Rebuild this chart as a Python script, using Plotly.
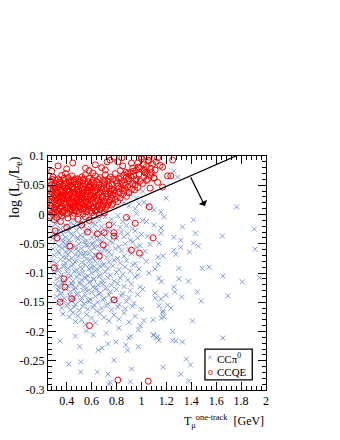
import plotly.graph_objects as go

# CCQE events (muon kinetic energy [GeV], log likelihood ratio)
ccqe = [
    (0.29, 0.064), (0.33, 0.061), (0.36, 0.067), (0.41, 0.063), (0.44, 0.066), (0.47, 0.061), (0.52, 0.064),
    (0.55, 0.068), (0.58, 0.062), (0.63, 0.066), (0.67, 0.063), (0.71, 0.068), (0.75, 0.064), (0.79, 0.070),
    (0.86, 0.067), (0.91, 0.072), (0.39, 0.070), (0.61, 0.071), (0.83, 0.075), (0.96, 0.076),
    (0.27, 0.057), (0.31, 0.059), (0.35, 0.055), (0.38, 0.058), (0.42, 0.056), (0.46, 0.059), (0.50, 0.055),
    (0.53, 0.058), (0.57, 0.056), (0.61, 0.059), (0.64, 0.055), (0.69, 0.058), (0.73, 0.057), (0.77, 0.060),
    (0.82, 0.061), (0.88, 0.063), (0.94, 0.066), (0.98, 0.069), (1.03, 0.071), (0.49, 0.061),
    (0.28, 0.051), (0.30, 0.048), (0.34, 0.052), (0.37, 0.049), (0.40, 0.053), (0.43, 0.050), (0.45, 0.047),
    (0.49, 0.052), (0.51, 0.049), (0.56, 0.051), (0.59, 0.048), (0.62, 0.053), (0.66, 0.050), (0.70, 0.052),
    (0.74, 0.049), (0.80, 0.054), (0.84, 0.056), (0.90, 0.058), (0.96, 0.061), (1.02, 0.064), (1.07, 0.067),
    (0.27, 0.044), (0.32, 0.046), (0.35, 0.042), (0.39, 0.045), (0.41, 0.043), (0.44, 0.046), (0.48, 0.042),
    (0.52, 0.045), (0.54, 0.043), (0.58, 0.046), (0.60, 0.042), (0.65, 0.045), (0.68, 0.043), (0.72, 0.046),
    (0.76, 0.044), (0.81, 0.048), (0.87, 0.050), (0.93, 0.053), (0.99, 0.057), (1.05, 0.060), (1.10, 0.063),
    (0.28, 0.038), (0.31, 0.040), (0.33, 0.036), (0.36, 0.039), (0.38, 0.037), (0.42, 0.041), (0.45, 0.038),
    (0.47, 0.036), (0.50, 0.040), (0.53, 0.037), (0.57, 0.039), (0.61, 0.036), (0.63, 0.040), (0.67, 0.038),
    (0.71, 0.041), (0.75, 0.037), (0.78, 0.042), (0.84, 0.044), (0.89, 0.047), (0.95, 0.050), (1.01, 0.053),
    (0.27, 0.032), (0.30, 0.034), (0.34, 0.030), (0.37, 0.033), (0.40, 0.031), (0.43, 0.035), (0.46, 0.032),
    (0.49, 0.030), (0.52, 0.034), (0.55, 0.031), (0.59, 0.033), (0.62, 0.030), (0.66, 0.034), (0.69, 0.031),
    (0.73, 0.035), (0.77, 0.033), (0.82, 0.038), (0.86, 0.040), (0.92, 0.043), (0.97, 0.046),
    (0.28, 0.026), (0.31, 0.028), (0.33, 0.024), (0.36, 0.027), (0.39, 0.025), (0.41, 0.029), (0.44, 0.026),
    (0.48, 0.024), (0.51, 0.028), (0.54, 0.025), (0.57, 0.027), (0.60, 0.024), (0.64, 0.028), (0.68, 0.025),
    (0.72, 0.029), (0.76, 0.027), (0.80, 0.031), (0.85, 0.034), (0.90, 0.037),
    (0.27, 0.020), (0.30, 0.022), (0.32, 0.018), (0.35, 0.021), (0.38, 0.019), (0.42, 0.023), (0.45, 0.020),
    (0.47, 0.018), (0.50, 0.022), (0.53, 0.019), (0.56, 0.021), (0.59, 0.018), (0.63, 0.022), (0.67, 0.020),
    (0.70, 0.023), (0.74, 0.021), (0.79, 0.026), (0.83, 0.028), (0.88, 0.031),
    (0.28, 0.014), (0.31, 0.016), (0.34, 0.012), (0.36, 0.015), (0.40, 0.013), (0.43, 0.017), (0.46, 0.014),
    (0.49, 0.012), (0.52, 0.016), (0.55, 0.013), (0.58, 0.015), (0.62, 0.012), (0.65, 0.016), (0.69, 0.014),
    (0.73, 0.017), (0.77, 0.019), (0.81, 0.022),
    (0.27, 0.008), (0.30, 0.010), (0.33, 0.006), (0.35, 0.009), (0.38, 0.007), (0.41, 0.011), (0.44, 0.008),
    (0.48, 0.006), (0.51, 0.010), (0.54, 0.007), (0.57, 0.009), (0.61, 0.011), (0.64, 0.008), (0.68, 0.012),
    (0.72, 0.014), (0.76, 0.016),
    (0.28, 0.002), (0.31, 0.004), (0.34, 0.000), (0.37, 0.003), (0.40, 0.001), (0.43, 0.005), (0.46, 0.002),
    (0.50, 0.004), (0.53, 0.001), (0.56, 0.005), (0.60, 0.003), (0.63, 0.006), (0.67, 0.008), (0.71, 0.010),
    (0.27, -0.003), (0.32, -0.005), (0.36, -0.002), (0.41, -0.006), (0.45, -0.003), (0.49, -0.008),
    (0.55, -0.004), (0.58, -0.010), (0.62, -0.002), (0.66, 0.000), (0.70, 0.003), (0.35, -0.012), (0.30, -0.009),
    (0.29, 0.043), (0.32, 0.037), (0.34, 0.047), (0.37, 0.027), (0.39, 0.017), (0.42, 0.033), (0.44, 0.021),
    (0.46, 0.044), (0.48, 0.028), (0.50, 0.016), (0.53, 0.048), (0.55, 0.022), (0.57, 0.042), (0.60, 0.027),
    (0.63, 0.046), (0.33, 0.019), (0.36, 0.031), (0.40, 0.040), (0.43, 0.010), (0.47, 0.052), (0.52, 0.030),
    (0.56, 0.036), (0.59, 0.051), (0.65, 0.024), (0.70, 0.044), (0.31, 0.053), (0.38, 0.062), (0.45, 0.056),
    (0.54, 0.061), (0.29, 0.029),
    (0.285, 0.060), (0.305, 0.045), (0.325, 0.027), (0.345, 0.058), (0.355, 0.013), (0.375, 0.042),
    (0.385, 0.052), (0.395, 0.033), (0.415, 0.048), (0.425, 0.020), (0.435, 0.059), (0.455, 0.030),
    (0.465, 0.008), (0.485, 0.047), (0.495, 0.035), (0.505, 0.058), (0.515, 0.021), (0.525, 0.041),
    (0.545, 0.053), (0.565, 0.017), (0.575, 0.048), (0.585, 0.031), (0.605, 0.055), (0.615, 0.019),
    (0.625, 0.041), (0.645, 0.033), (0.655, 0.060), (0.675, 0.046), (0.685, 0.029), (0.705, 0.056),
    (0.715, 0.035), (0.735, 0.061), (0.745, 0.024), (0.765, 0.052), (0.785, 0.036), (0.795, 0.058),
    (0.815, 0.044), (0.835, 0.063), (0.855, 0.051), (0.875, 0.072), (0.895, 0.061), (0.915, 0.066),
    (0.935, 0.074), (0.955, 0.058), (0.985, 0.079), (1.015, 0.085), (1.045, 0.070), (1.075, 0.079),
    (0.275, 0.014), (0.295, 0.003), (0.315, 0.032), (0.365, 0.005), (0.445, 0.013), (0.535, 0.010),
    (0.595, 0.006), (0.645, 0.013), (0.695, 0.017), (0.755, 0.040), (0.865, 0.045), (0.945, 0.042),
    (0.85, 0.083), (0.93, 0.079), (0.97, 0.088), (1.00, 0.095), (1.04, 0.082), (1.06, 0.092), (1.09, 0.086),
    (1.11, 0.076), (1.13, 0.097), (1.02, 0.077), (0.89, 0.070), (1.08, 0.072), (1.15, 0.084), (0.81, 0.090),
    (0.449, 0.088), (0.551, 0.079), (0.63, 0.085), (0.78, 0.098), (0.748, 0.093), (0.724, 0.090),
    (0.843, 0.097), (0.92, 0.088), (1.055, 0.093), (1.063, 0.098), (1.118, 0.090), (1.21, 0.066),
    (1.236, 0.066), (1.25, 0.093), (1.00, 0.098), (0.976, 0.081), (1.17, 0.081), (1.10, 0.062),
    (1.17, 0.047), (1.063, 0.013), (1.02, 0.073), (1.04, 0.058), (1.07, 0.045), (1.13, 0.055),
    (0.33, 0.083), (0.40, 0.078), (0.28, 0.074), (0.68, 0.080), (0.58, 0.075), (0.71, 0.076),
    (0.307, -0.028), (0.323, -0.040), (0.425, -0.054), (0.567, -0.030), (0.646, -0.033), (0.70, -0.031),
    (0.78, -0.031), (0.78, -0.037), (0.693, -0.052), (0.661, -0.071), (0.92, -0.061), (0.984, -0.066),
    (1.094, -0.040), (0.30, -0.091), (0.378, -0.110), (0.386, -0.124), (0.441, -0.144), (0.346, -0.150),
    (0.78, -0.146), (0.583, -0.190), (0.811, -0.283), (1.055, -0.285), (0.95, -0.015), (0.88, -0.005),
    (0.52, -0.018), (0.40, -0.022), (0.74, -0.018),
]

# CC pi0 events
ccpi0 = [
    (0.33, 0.035), (0.38, 0.028), (0.42, 0.044), (0.47, 0.020), (0.52, 0.038), (0.57, 0.012), (0.62, 0.031),
    (0.68, 0.022), (0.30, 0.015), (0.36, 0.048), (0.45, 0.005), (0.55, 0.026), (0.74, 0.030), (0.80, 0.040),
    (0.86, 0.020), (0.91, 0.035), (0.96, 0.028), (1.01, 0.040), (0.71, 0.052), (0.64, 0.003), (0.40, 0.010),
    (0.50, 0.055), (0.84, 0.056), (0.93, 0.050), (0.58, 0.045),
    (0.90, 0.015), (0.95, 0.010), (0.98, 0.018), (1.02, 0.021), (1.05, 0.016), (1.10, 0.008), (1.157, 0.004),
    (1.18, -0.004), (1.197, 0.028), (1.29, 0.064), (1.26, 0.074), (1.764, 0.013), (1.906, -0.025),
    (1.33, -0.021), (1.417, -0.009), (1.10, -0.018), (1.157, -0.023),
    (0.29, -0.008), (0.33, -0.012), (0.38, -0.006), (0.43, -0.014), (0.47, -0.009), (0.52, -0.013),
    (0.57, -0.007), (0.61, -0.015), (0.66, -0.010), (0.71, -0.004), (0.76, -0.008), (0.81, -0.002),
    (0.85, -0.012), (0.90, -0.006), (0.96, 0.002), (1.01, -0.010),
    (0.28, -0.021), (0.31, -0.017), (0.35, -0.024), (0.39, -0.019), (0.42, -0.023), (0.46, -0.018),
    (0.50, -0.022), (0.54, -0.020), (0.59, -0.024), (0.63, -0.017), (0.68, -0.021), (0.72, -0.025),
    (0.78, -0.016), (0.83, -0.022), (0.88, -0.019), (0.93, -0.024), (1.04, -0.012),
    (0.30, -0.031), (0.34, -0.027), (0.37, -0.034), (0.41, -0.029), (0.44, -0.033), (0.48, -0.027),
    (0.51, -0.035), (0.55, -0.030), (0.58, -0.026), (0.62, -0.034), (0.65, -0.028), (0.69, -0.032),
    (0.74, -0.029), (0.79, -0.035), (0.84, -0.030), (0.89, -0.033), (0.95, -0.028), (1.00, -0.034),
    (0.29, -0.041), (0.32, -0.037), (0.36, -0.044), (0.39, -0.039), (0.42, -0.043), (0.45, -0.036),
    (0.49, -0.042), (0.53, -0.038), (0.56, -0.045), (0.60, -0.040), (0.64, -0.037), (0.67, -0.043),
    (0.71, -0.039), (0.75, -0.045), (0.80, -0.041), (0.86, -0.038), (0.91, -0.044), (0.97, -0.040),
    (1.05, -0.037),
    (0.31, -0.049), (0.34, -0.054), (0.37, -0.047), (0.40, -0.052), (0.43, -0.048), (0.47, -0.055),
    (0.50, -0.050), (0.54, -0.046), (0.57, -0.053), (0.61, -0.049), (0.65, -0.054), (0.68, -0.047),
    (0.73, -0.052), (0.77, -0.048), (0.82, -0.055), (0.87, -0.050), (0.93, -0.047), (0.99, -0.053),
    (1.07, -0.051),
    (0.29, -0.059), (0.33, -0.063), (0.36, -0.057), (0.39, -0.064), (0.42, -0.060), (0.46, -0.056),
    (0.49, -0.062), (0.52, -0.058), (0.55, -0.065), (0.59, -0.061), (0.62, -0.057), (0.66, -0.063),
    (0.70, -0.059), (0.74, -0.064), (0.79, -0.058), (0.84, -0.062), (0.90, -0.060), (0.96, -0.056),
    (1.03, -0.063),
    (0.30, -0.070), (0.34, -0.066), (0.37, -0.073), (0.41, -0.068), (0.44, -0.075), (0.47, -0.069),
    (0.51, -0.066), (0.54, -0.072), (0.58, -0.067), (0.61, -0.074), (0.64, -0.070), (0.68, -0.066),
    (0.72, -0.073), (0.76, -0.069), (0.81, -0.075), (0.86, -0.071), (0.92, -0.067), (1.00, -0.072),
    (0.29, -0.080), (0.32, -0.084), (0.35, -0.077), (0.39, -0.083), (0.42, -0.078), (0.45, -0.085),
    (0.48, -0.079), (0.52, -0.082), (0.56, -0.076), (0.59, -0.084), (0.63, -0.080), (0.67, -0.077),
    (0.70, -0.085), (0.74, -0.081), (0.78, -0.078), (0.83, -0.083), (0.88, -0.079), (0.95, -0.084),
    (1.04, -0.080),
    (0.31, -0.089), (0.34, -0.094), (0.38, -0.087), (0.41, -0.092), (0.44, -0.088), (0.48, -0.095),
    (0.51, -0.090), (0.55, -0.086), (0.58, -0.093), (0.62, -0.089), (0.65, -0.095), (0.69, -0.087),
    (0.73, -0.092), (0.77, -0.088), (0.82, -0.094), (0.87, -0.090), (0.93, -0.086), (0.98, -0.093),
    (0.30, -0.100), (0.33, -0.096), (0.36, -0.103), (0.40, -0.098), (0.43, -0.104), (0.46, -0.097),
    (0.50, -0.102), (0.53, -0.099), (0.57, -0.105), (0.60, -0.100), (0.63, -0.096), (0.67, -0.103),
    (0.71, -0.098), (0.75, -0.104), (0.80, -0.099), (0.85, -0.102), (0.91, -0.097), (0.97, -0.104),
    (1.06, -0.100),
    (0.32, -0.110), (0.35, -0.106), (0.38, -0.113), (0.42, -0.108), (0.45, -0.114), (0.48, -0.107),
    (0.52, -0.112), (0.55, -0.109), (0.59, -0.115), (0.62, -0.110), (0.66, -0.106), (0.69, -0.113),
    (0.73, -0.108), (0.78, -0.114), (0.83, -0.109), (0.89, -0.112), (0.95, -0.107),
    (0.31, -0.120), (0.34, -0.124), (0.37, -0.117), (0.41, -0.122), (0.44, -0.118), (0.47, -0.125),
    (0.51, -0.119), (0.54, -0.123), (0.58, -0.116), (0.61, -0.124), (0.65, -0.120), (0.68, -0.117),
    (0.72, -0.125), (0.76, -0.121), (0.81, -0.118), (0.86, -0.123), (0.92, -0.119), (0.99, -0.124),
    (0.33, -0.129), (0.36, -0.134), (0.39, -0.127), (0.43, -0.132), (0.46, -0.128), (0.49, -0.135),
    (0.53, -0.130), (0.56, -0.126), (0.60, -0.133), (0.64, -0.129), (0.67, -0.134), (0.71, -0.127),
    (0.75, -0.132), (0.80, -0.128), (0.85, -0.135), (0.91, -0.130), (1.01, -0.128),
    (0.32, -0.140), (0.35, -0.136), (0.38, -0.143), (0.42, -0.138), (0.45, -0.144), (0.48, -0.137),
    (0.52, -0.142), (0.55, -0.139), (0.59, -0.145), (0.63, -0.140), (0.66, -0.136), (0.70, -0.143),
    (0.74, -0.138), (0.79, -0.144), (0.84, -0.139), (0.90, -0.142), (0.97, -0.137),
    (0.34, -0.150), (0.37, -0.146), (0.41, -0.153), (0.44, -0.148), (0.47, -0.154), (0.51, -0.147),
    (0.54, -0.152), (0.58, -0.149), (0.62, -0.155), (0.65, -0.150), (0.69, -0.146), (0.73, -0.153),
    (0.77, -0.148), (0.82, -0.154), (0.88, -0.149), (0.94, -0.152),
    (0.36, -0.160), (0.40, -0.156), (0.43, -0.163), (0.46, -0.158), (0.50, -0.164), (0.53, -0.157),
    (0.57, -0.162), (0.61, -0.159), (0.64, -0.165), (0.68, -0.160), (0.72, -0.156), (0.76, -0.163),
    (0.81, -0.158), (0.87, -0.161), (0.93, -0.157), (1.00, -0.162),
    (0.37, -0.170), (0.42, -0.175), (0.45, -0.168), (0.49, -0.173), (0.52, -0.180), (0.56, -0.171),
    (0.60, -0.177), (0.63, -0.185), (0.67, -0.169), (0.70, -0.176), (0.74, -0.182), (0.78, -0.172),
    (0.82, -0.179), (0.86, -0.168), (0.90, -0.184), (0.95, -0.174), (1.02, -0.181), (0.55, -0.188),
    (0.47, -0.183),
    (0.405, -0.047), (0.435, -0.063), (0.465, -0.081), (0.495, -0.071), (0.525, -0.093), (0.555, -0.052),
    (0.585, -0.078), (0.615, -0.111), (0.645, -0.044), (0.415, -0.101), (0.445, -0.121), (0.475, -0.059),
    (0.505, -0.116), (0.535, -0.067), (0.565, -0.131), (0.595, -0.091), (0.625, -0.069), (0.395, -0.074),
    (0.375, -0.089), (0.355, -0.118), (0.485, -0.039), (0.545, -0.107), (0.605, -0.051), (0.665, -0.088),
    (0.695, -0.119), (0.725, -0.061), (0.455, -0.141), (0.575, -0.147), (0.385, -0.055), (0.635, -0.125),
    (0.346, -0.216), (0.417, -0.256), (0.512, -0.252), (0.512, -0.269), (0.646, -0.269), (0.732, -0.273),
    (0.74, -0.290), (0.75, -0.287), (0.78, -0.249), (0.92, -0.264), (0.913, -0.286), (0.504, -0.226),
    (0.654, -0.232), (0.685, -0.228), (0.732, -0.221), (0.795, -0.218), (0.874, -0.223), (0.89, -0.232),
    (0.976, -0.226), (0.90, -0.211), (0.913, -0.208), (0.47, -0.208), (0.559, -0.199), (0.614, -0.206),
    (0.717, -0.203), (0.819, -0.194), (0.99, -0.190), (0.976, -0.197), (1.094, -0.206),
    (1.157, -0.032), (1.26, -0.039), (1.315, -0.044), (1.433, -0.032), (1.65, -0.037), (1.142, -0.049),
    (1.417, -0.049), (1.457, -0.054), (1.315, -0.056), (1.26, -0.061), (1.276, -0.068), (1.386, -0.064),
    (1.913, -0.059), (1.173, -0.071), (1.134, -0.073), (1.134, -0.085), (1.11, -0.093), (1.30, -0.092),
    (1.488, -0.092), (1.543, -0.090), (1.654, -0.105), (1.81, -0.115), (1.95, -0.108), (1.14, -0.109),
    (1.16, -0.115), (1.30, -0.110), (1.378, -0.114), (1.26, -0.124), (1.268, -0.132), (1.449, -0.132),
    (1.11, -0.134), (1.197, -0.138), (1.323, -0.141), (1.693, -0.139), (1.11, -0.143), (1.157, -0.144),
    (1.48, -0.148), (1.142, -0.156), (1.21, -0.155), (1.236, -0.160), (1.173, -0.165),
    (1.17, -0.168), (1.18, -0.175), (1.16, -0.177), (1.41, -0.182), (1.094, -0.180), (1.25, -0.200),
    (1.10, -0.206), (1.13, -0.209), (1.14, -0.215), (1.12, -0.211), (1.25, -0.215), (1.276, -0.216),
    (1.33, -0.218), (1.654, -0.211), (1.36, -0.247), (1.173, -0.261), (1.394, -0.257), (1.315, -0.273),
    (1.378, -0.285),
]

ccqe_t = [p[0] for p in ccqe]
ccqe_llr = [p[1] for p in ccqe]
ccpi0_t = [p[0] for p in ccpi0]
ccpi0_llr = [p[1] for p in ccpi0]

# selection cut line and arrow (data coords)
cut_t = [0.25, 1.76]
cut_llr = [-0.04, 0.1]
arrow_tail = (1.39, 0.066)
arrow_head = (1.51, 0.0145)

x_ticks = [0.4, 0.6, 0.8, 1.0, 1.2, 1.4, 1.6, 1.8, 2.0]
x_labels = ["0.4", "0.6", "0.8", "1", "1.2", "1.4", "1.6", "1.8", "2"]
y_ticks = [-0.3, -0.25, -0.2, -0.15, -0.1, -0.05, 0, 0.05, 0.1]
y_labels = ["-0.3", "-0.25", "-0.2", "-0.15", "-0.1", "-0.05", "0", "0.05", "0.1"]

FONT = "Liberation Serif"
BLUE = "#7f9ddb"
RED = "#ff0000"

fig = go.Figure()
fig.add_scatter(
    x=ccpi0_t, y=ccpi0_llr, mode="markers", name="CCπ<sup>0</sup>",
    marker=dict(symbol="x-thin-open", size=5, color=BLUE, line=dict(width=1, color=BLUE)),
)
fig.add_scatter(
    x=ccqe_t, y=ccqe_llr, mode="markers", name="CCQE",
    marker=dict(symbol="circle-open", size=6, color=RED, line=dict(width=1)),
)

fig.add_shape(type="line", xref="x", yref="y", x0=cut_t[0], y0=cut_llr[0], x1=cut_t[1], y1=cut_llr[1],
              line=dict(color="black", width=1.3))
fig.add_annotation(x=arrow_head[0], y=arrow_head[1], ax=arrow_tail[0], ay=arrow_tail[1],
                   xref="x", yref="y", axref="x", ayref="y", text="", showarrow=True,
                   arrowhead=1, arrowsize=1.3, arrowwidth=1.2, arrowcolor="black")

fig.add_annotation(text="log (L<sub>μ</sub>/L<sub>e</sub>)", xref="paper", yref="paper",
                   x=-0.15, y=1.01, xanchor="center", yanchor="top", textangle=-90,
                   showarrow=False, font=dict(size=14))
fig.add_annotation(text="T<sub>μ</sub><sup>one-track</sup>  [GeV]", xref="paper", yref="paper",
                   x=1.0, y=-0.135, xanchor="right", yanchor="middle",
                   showarrow=False, font=dict(size=12))

# hand-built legend box, ROOT style
fig.add_shape(type="rect", xref="paper", yref="paper", x0=0.72, x1=0.937, y0=0.043, y1=0.175,
              line=dict(color="black", width=1.3), fillcolor="white", layer="above")
fig.add_annotation(text="×", xref="paper", yref="paper", x=0.745, y=0.137, showarrow=False,
                   font=dict(size=10, color=BLUE), xanchor="center", yanchor="middle")
fig.add_annotation(text="CCπ<sup>0</sup>", xref="paper", yref="paper", x=0.765, y=0.135,
                   showarrow=False, font=dict(size=11), xanchor="left", yanchor="middle")
fig.add_annotation(text="o", xref="paper", yref="paper", x=0.745, y=0.078, showarrow=False,
                   font=dict(size=10, color=RED), xanchor="center", yanchor="middle")
fig.add_annotation(text="CCQE", xref="paper", yref="paper", x=0.765, y=0.078,
                   showarrow=False, font=dict(size=11), xanchor="left", yanchor="middle")

axis = dict(showline=True, linecolor="black", linewidth=1, mirror="ticks", ticks="inside",
            ticklen=8, tickcolor="black", showgrid=False, zeroline=False, tickfont=dict(size=12),
            minor=dict(ticks="inside", ticklen=4, tickcolor="black", showgrid=False))
fig.update_xaxes(axis, range=[0.25, 2.0], tickvals=x_ticks, ticktext=x_labels, minor_dtick=0.04)
fig.update_yaxes(axis, range=[-0.3, 0.1], tickvals=y_ticks, ticktext=y_labels, minor_dtick=0.01)

# the page body adds an 8px offset, so the figure is a bit smaller than the window
fig.update_layout(
    width=332, height=432,
    margin=dict(l=36, r=74, t=148, b=50),
    paper_bgcolor="white", plot_bgcolor="white",
    font=dict(family=FONT, size=11, color="black"),
    showlegend=False,
)

fig.write_html("out.html")
